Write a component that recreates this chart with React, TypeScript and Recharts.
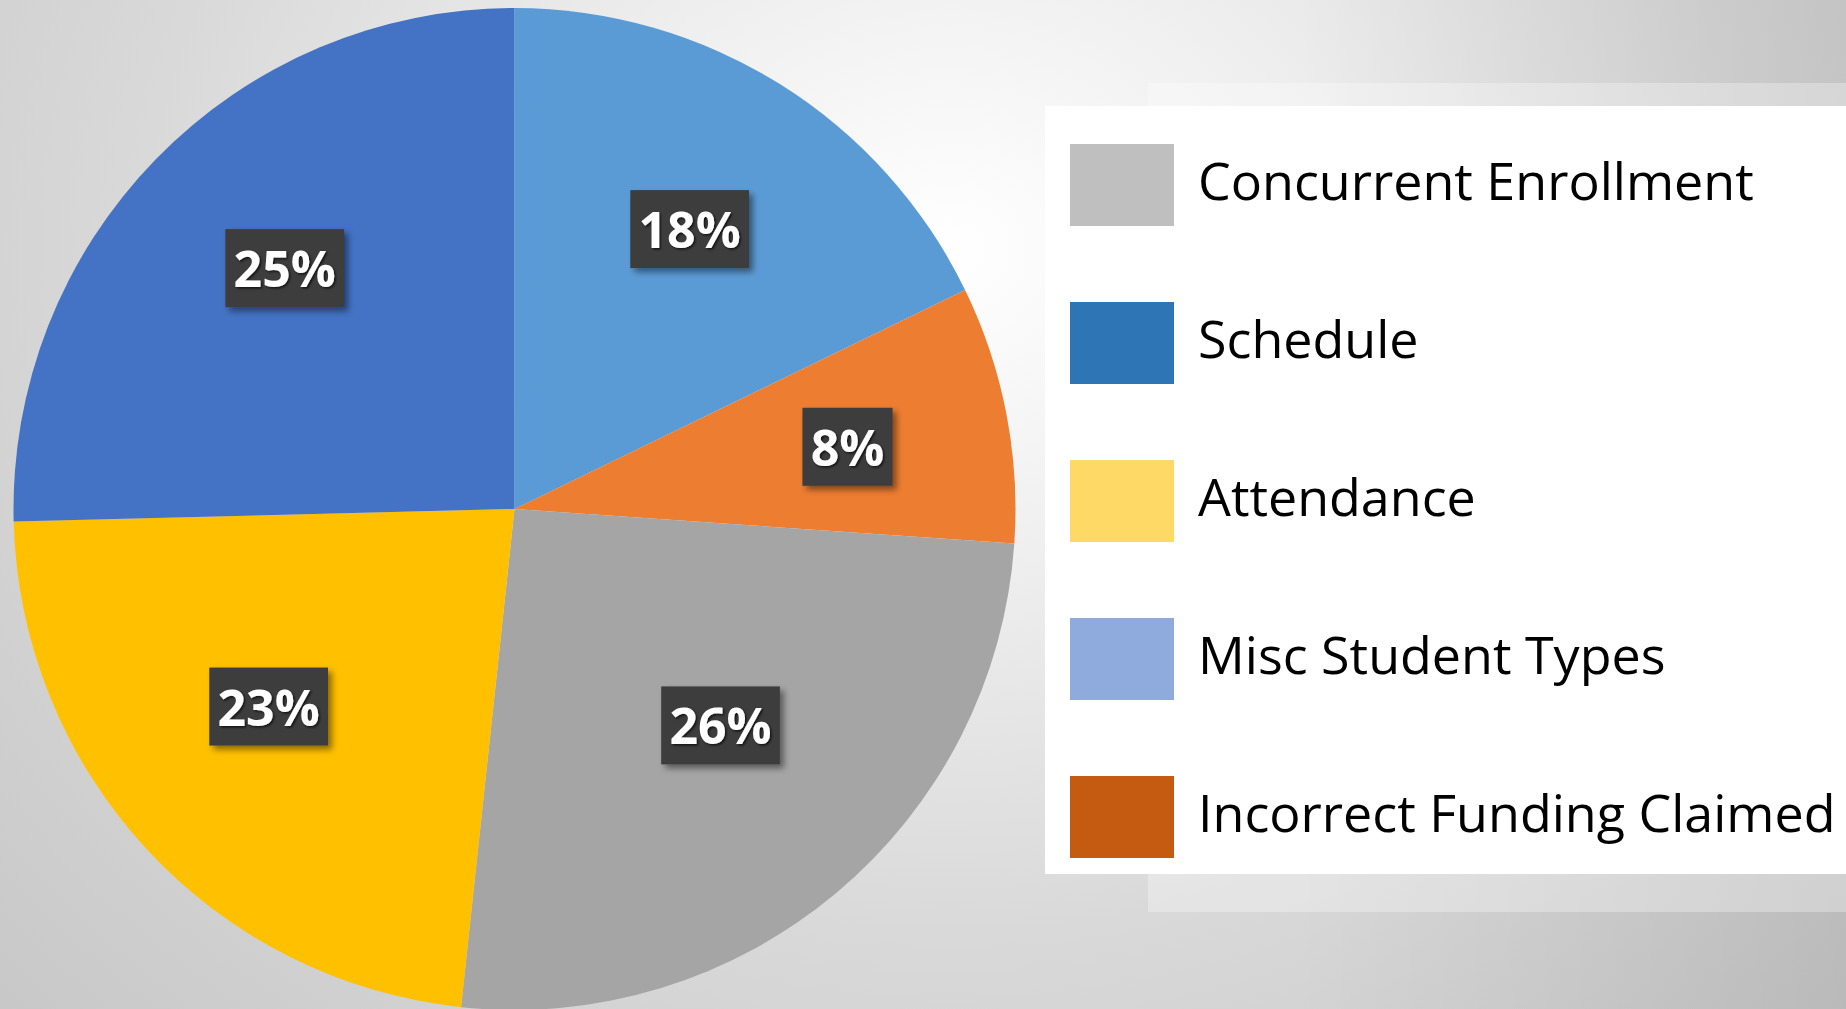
import React from "react";
import { PieChart, Pie, Cell } from "recharts";

// ---- data ----
const categories = [
  "Misc Student Types",
  "Incorrect Funding Claimed",
  "Concurrent Enrollment",
  "Attendance",
  "Schedule",
];
const shares = [17.8, 8.3, 25.6, 22.9, 25.4];
const sliceColors = ["#5B9BD5", "#ED7D31", "#A5A5A5", "#FFC000", "#4472C4"];

const legendNames = [
  "Concurrent Enrollment",
  "Schedule",
  "Attendance",
  "Misc Student Types",
  "Incorrect Funding Claimed",
];
const legendColors = ["#BFBFBF", "#2E75B6", "#FFD966", "#8FAADC", "#C55A11"];

// presentation: how far out (fraction of radius) each data label sits, plus a small nudge
const labelRadiusFactor = [0.659, 0.673, 0.6, 0.632, 0.663];
const labelNudgeX = [0, 2, 13, -13, 8];
const labelNudgeY = [0, 2, -14, -17, -9];

const data = categories.map((name, i) => ({ name, value: shares[i] }));

const W = 1846;
const H = 1009;
const RADIAN = Math.PI / 180;

const renderLabel = (props: any) => {
  const { cx, cy, midAngle, outerRadius, percent, index } = props;
  const r = outerRadius * labelRadiusFactor[index];
  const x = cx + r * Math.cos(-midAngle * RADIAN) + labelNudgeX[index];
  const y = cy + r * Math.sin(-midAngle * RADIAN) + labelNudgeY[index];
  const text = `${Math.round(percent * 100)}%`;
  const fs = 50;
  const digits = text.length - 1;
  const tw = (digits * 0.572 + 0.87) * fs;
  const bw = tw + 18;
  const bh = 78;
  const fid = `lblshadow${index}`;
  return (
    <g key={`lbl-${index}`}>
      <defs>
        <filter id={fid} x="-20%" y="-20%" width="150%" height="160%">
          <feDropShadow dx="4" dy="4" stdDeviation="3" floodColor="#000" floodOpacity="0.45" />
        </filter>
        <filter id={fid + "t"} x="-20%" y="-20%" width="150%" height="160%">
          <feDropShadow dx="1.5" dy="1.5" stdDeviation="1" floodColor="#000" floodOpacity="0.7" />
        </filter>
      </defs>
      <rect
        x={x - bw / 2}
        y={y - bh / 2}
        width={bw}
        height={bh}
        fill="#3D3D3D"
        filter={`url(#${fid})`}
      />
      <text
        x={x}
        y={y}
        fill="#FFFFFF"
        textAnchor="middle"
        dominantBaseline="central"
        fontFamily="'Open Sans', sans-serif"
        fontWeight={700}
        fontSize={fs}
        filter={`url(#${fid}t)`}
      >
        {text}
      </text>
    </g>
  );
};

const legendTop = 185;
const legendStep = 158;

export default function App() {
  return (
    <div
      style={{
        position: "relative",
        width: W,
        height: H,
        overflow: "hidden",
        background:
          "linear-gradient(to right, rgba(0,0,0,0) 70%, rgba(0,0,0,0.08) 100%), radial-gradient(ellipse 1300px 1100px at 950px 250px, #ffffff 0%, #efefef 28%, #d9d9d9 62%, #c8c8c8 100%)",
      }}
    >
      <style>{"body{margin:0;overflow:hidden}"}</style>
      <div
        style={{
          position: "absolute",
          left: 1148,
          top: 83,
          width: W - 1148,
          height: 912 - 83,
          background: "rgba(255,255,255,0.3)",
        }}
      />
      <div style={{ position: "absolute", left: 0, top: 0 }}>
        <PieChart width={W} height={H} margin={{ top: 0, right: 0, bottom: 0, left: 0 }}>
          <Pie
            data={data}
            dataKey="value"
            nameKey="name"
            cx={514.5}
            cy={509}
            outerRadius={501}
            startAngle={90}
            endAngle={-270}
            stroke="none"
            isAnimationActive={false}
            labelLine={false}
            label={renderLabel}
          >
            {data.map((d, i) => (
              <Cell key={d.name} fill={sliceColors[i]} stroke="none" />
            ))}
          </Pie>
        </PieChart>
      </div>
      <div
        style={{
          position: "absolute",
          left: 1045,
          top: 106,
          width: W - 1045,
          height: 874 - 106,
          background: "#FFFFFF",
        }}
      >
        {legendNames.map((name, i) => {
          const cyy = legendTop + i * legendStep - 106;
          return (
            <div key={name}>
              <div
                style={{
                  position: "absolute",
                  left: 1070 - 1045,
                  top: cyy - 41,
                  width: 104,
                  height: 82,
                  background: legendColors[i],
                }}
              />
              <div
                style={{
                  position: "absolute",
                  left: 1198 - 1045,
                  top: cyy - 45,
                  height: 80,
                  lineHeight: "80px",
                  fontFamily: "'Open Sans', sans-serif",
                  fontSize: 52,
                  color: "#000000",
                  whiteSpace: "nowrap",
                }}
              >
                {name}
              </div>
            </div>
          );
        })}
      </div>
    </div>
  );
}
